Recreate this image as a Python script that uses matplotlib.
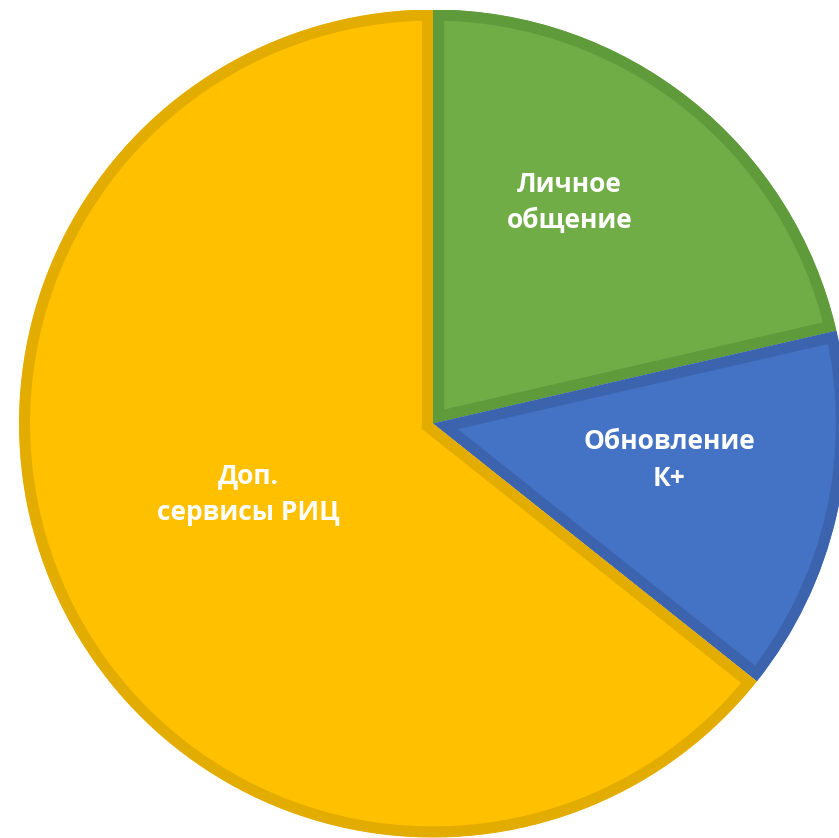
import matplotlib.pyplot as plt
from matplotlib.patches import Wedge

labels = ['Личное\nобщение', 'Обновление\nК+', 'Доп.\nсервисы РИЦ']
values = [21.4, 14.3, 64.3]
colors = ['#70AD47', '#4472C4', '#FFC000']
edge_colors = ['#5F9B3B', '#3C64AE', '#E3AC00']
# label centres in axes data units (pie radius = 1)
label_pos = [(0.330, 0.534), (0.571, -0.088), (-0.445, -0.170)]

W, H = 839, 838
fig = plt.figure(figsize=(W / 100, H / 100), dpi=100)
cx, cy, r = 433, 423.5, 414
ax = fig.add_axes([(cx - r) / W, (H - cy - r) / H, 2 * r / W, 2 * r / H])

wedges, _ = ax.pie(values, colors=colors, startangle=90, counterclock=False,
                   radius=1, wedgeprops=dict(linewidth=16))
ax.set_xlim(-1, 1)
ax.set_ylim(-1, 1)
ax.axis('off')

for w, ec in zip(wedges, edge_colors):
    w.set_edgecolor(ec)
    # keep the stroke inside its own wedge
    clip = Wedge(w.center, w.r, w.theta1, w.theta2, transform=ax.transData)
    w.set_clip_on(True)
    w.set_clip_path(clip)

for lab, (x, y) in zip(labels, label_pos):
    ax.text(x, y, lab, ha='center', va='center', color='white',
            fontsize=19, fontweight='bold', family=['Open Sans', 'DejaVu Sans'],
            linespacing=1.45)

fig.savefig('out.png', dpi=100)
